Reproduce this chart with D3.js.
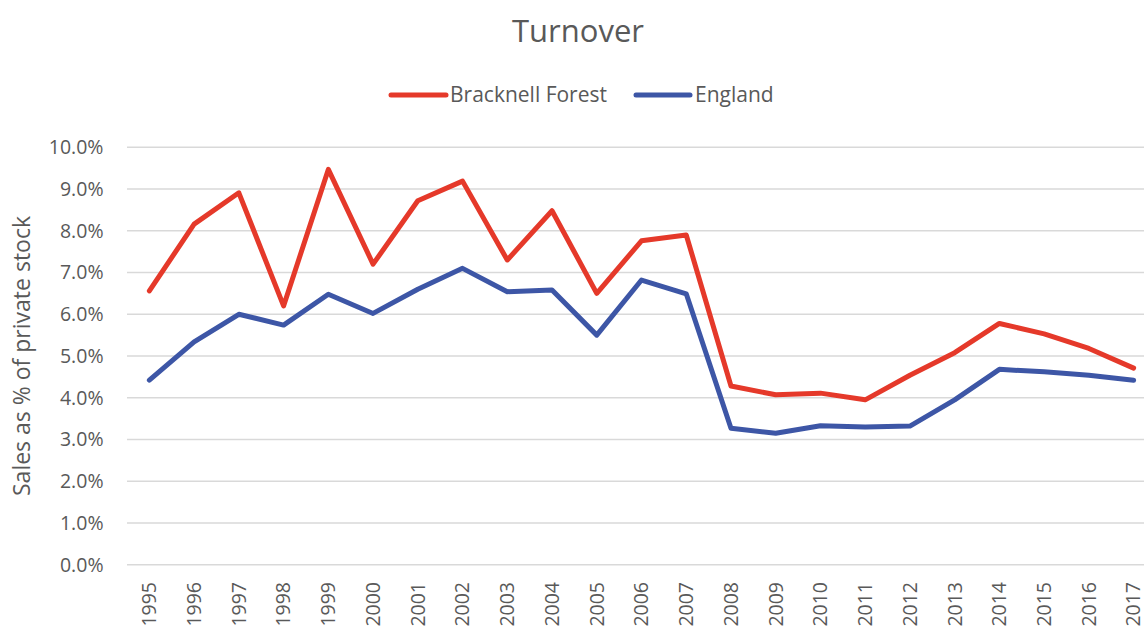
<!DOCTYPE html>
<html><head><meta charset="utf-8">
<script src="https://cdn.jsdelivr.net/npm/d3@7"></script>
<style>body{margin:0;background:#fff;overflow:hidden}svg text{font-family:"Open Sans",sans-serif;fill:#595959}</style>
</head><body>
<svg id="c" width="1144" height="628"></svg>
<script>
const years = ["1995","1996","1997","1998","1999","2000","2001","2002","2003","2004","2005","2006","2007","2008","2009","2010","2011","2012","2013","2014","2015","2016","2017"];
const bracknell = [6.56,8.16,8.91,6.20,9.47,7.20,8.72,9.19,7.30,8.48,6.50,7.76,7.90,4.28,4.07,4.11,3.95,4.54,5.08,5.78,5.53,5.18,4.71];
const england = [4.42,5.34,6.00,5.74,6.48,6.02,6.60,7.10,6.54,6.58,5.50,6.82,6.49,3.27,3.15,3.33,3.30,3.32,3.95,4.68,4.62,4.54,4.42];
const yTicks = [0,1,2,3,4,5,6,7,8,9,10];
const seriesNames = ["Bracknell Forest","England"];
const colors = ["#E5392A","#3D56A6"];

const svg = d3.select("#c");
const pLeft = 127, pRight = 1156, pTop = 147.3, pBottom = 564.7;
const x = d3.scaleBand().domain(years).range([pLeft, pRight]);
const y = d3.scaleLinear().domain([0, 10]).range([pBottom, pTop]);

svg.append("text").attr("x", 578).attr("y", 42).attr("text-anchor", "middle")
  .style("font-size", "31px").text("Turnover");

svg.append("g").selectAll("line").data(yTicks).join("line")
  .attr("x1", pLeft).attr("x2", pRight).attr("y1", d => y(d)).attr("y2", d => y(d))
  .attr("stroke", "#D9D9D9").attr("stroke-width", 1.5);

svg.append("g").selectAll("text").data(yTicks).join("text")
  .attr("x", 103.5).attr("y", d => y(d)).attr("dy", "0.35em").attr("text-anchor", "end")
  .style("font-size", "19.5px").text(d => d.toFixed(1) + "%");

svg.append("g").selectAll("text").data(years).join("text")
  .attr("transform", d => `translate(${x(d) + x.bandwidth()/2},582) rotate(-90)`)
  .attr("dy", "0.35em").attr("text-anchor", "end")
  .style("font-size", "19.5px").text(d => d);

svg.append("text").attr("transform", "translate(22,356) rotate(-90)")
  .attr("text-anchor", "middle").attr("dy", "0.35em").style("font-size", "23px")
  .text("Sales as % of private stock");

const line = d3.line().x((d, i) => x(years[i]) + x.bandwidth()/2).y(d => y(d));
[bracknell, england].forEach((s, k) => {
  svg.append("path").datum(s).attr("d", line).attr("fill", "none")
    .attr("stroke", colors[k]).attr("stroke-width", 5)
    .attr("stroke-linejoin", "round").attr("stroke-linecap", "round");
});

const leg = [{x1: 391, x2: 446, tx: 450}, {x1: 636, x2: 690, tx: 695}];
leg.forEach((l, k) => {
  svg.append("line").attr("x1", l.x1).attr("x2", l.x2).attr("y1", 95).attr("y2", 95)
    .attr("stroke", colors[k]).attr("stroke-width", 5).attr("stroke-linecap", "round");
  svg.append("text").attr("x", l.tx).attr("y", 95).attr("dy", "0.35em")
    .style("font-size", "21px").text(seriesNames[k]);
});
</script>
</body></html>
